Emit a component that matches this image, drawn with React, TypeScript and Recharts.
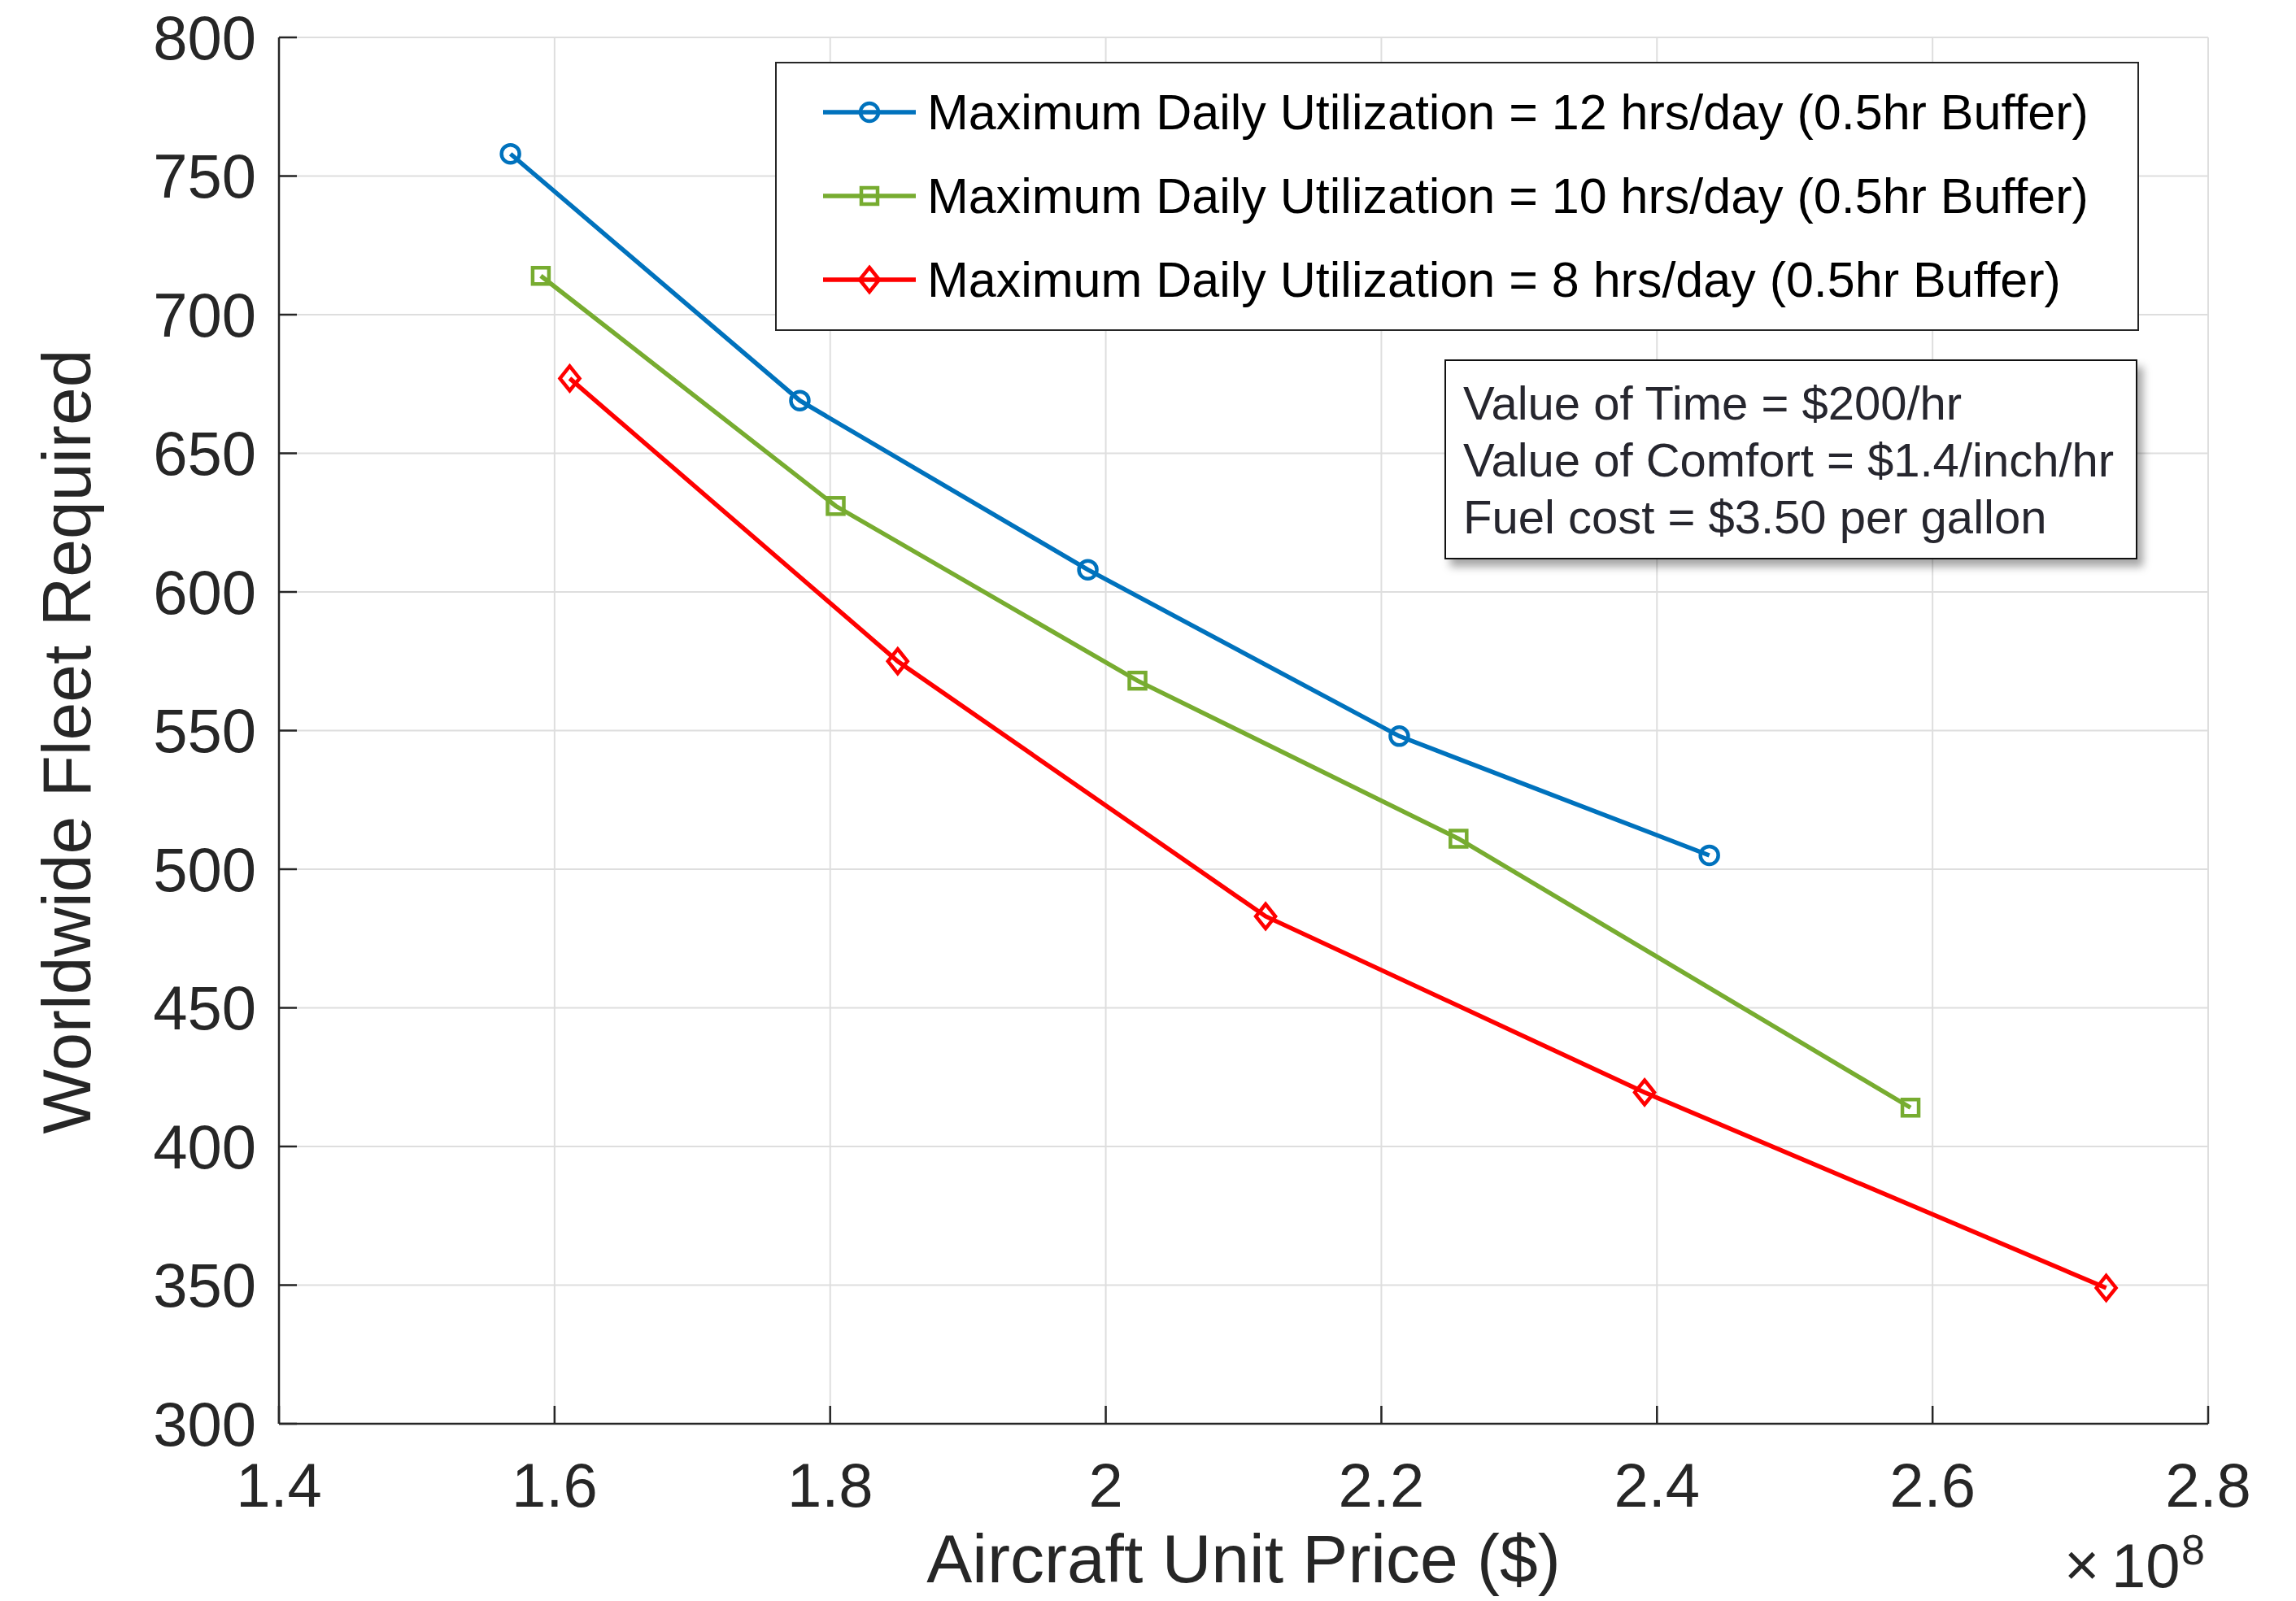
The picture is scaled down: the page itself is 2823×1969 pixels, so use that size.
import React from "react";
import {
  CartesianGrid,
  Legend,
  Line,
  LineChart,
  XAxis,
  YAxis,
} from "recharts";

// Aircraft unit price ($) vs. worldwide fleet required, per max daily utilization
const PRICE_12H = [1.568e8, 1.778e8, 1.987e8, 2.213e8, 2.438e8];
const FLEET_12H = [758, 669, 608, 548, 505];

const PRICE_10H = [1.59e8, 1.804e8, 2.023e8, 2.256e8, 2.584e8];
const FLEET_10H = [714, 631, 568, 511, 414];

const PRICE_8H = [1.611e8, 1.849e8, 2.116e8, 2.391e8, 2.726e8];
const FLEET_8H = [677, 575, 483, 419.5, 349];

const X_TICKS = [1.4e8, 1.6e8, 1.8e8, 2.0e8, 2.2e8, 2.4e8, 2.6e8, 2.8e8];
const Y_TICKS = [300, 350, 400, 450, 500, 550, 600, 650, 700, 750, 800];

const SERIES_NAMES = [
  "Maximum Daily Utilization = 12 hrs/day (0.5hr Buffer)",
  "Maximum Daily Utilization = 10 hrs/day (0.5hr Buffer)",
  "Maximum Daily Utilization = 8 hrs/day (0.5hr Buffer)",
];

const NOTE_LINES = [
  "Value of Time = $200/hr",
  "Value of Comfort = $1.4/inch/hr",
  "Fuel cost = $3.50 per gallon",
];

const toRows = (xs: number[], ys: number[]) =>
  xs.map((price, i) => ({ price, fleet: ys[i] }));

const SERIES = [
  { name: SERIES_NAMES[0], color: "#0072BD", shape: "circle", data: toRows(PRICE_12H, FLEET_12H) },
  { name: SERIES_NAMES[1], color: "#77AC30", shape: "square", data: toRows(PRICE_10H, FLEET_10H) },
  { name: SERIES_NAMES[2], color: "#FF0000", shape: "diamond", data: toRows(PRICE_8H, FLEET_8H) },
];

const FONT = "'Liberation Sans', Arial, Helvetica, sans-serif";
const INK = "#262626";

function Marker({ cx, cy, shape, color }: { cx: number; cy: number; shape: string; color: string }) {
  const common = { fill: "none", stroke: color, strokeWidth: 4.5 };
  if (shape === "square") {
    return <rect x={cx - 10} y={cy - 10} width={20} height={20} {...common} />;
  }
  if (shape === "diamond") {
    return (
      <polygon
        points={`${cx},${cy - 15} ${cx + 12},${cy} ${cx},${cy + 15} ${cx - 12},${cy}`}
        {...common}
      />
    );
  }
  return <circle cx={cx} cy={cy} r={11} {...common} />;
}

function LegendBox() {
  return (
    <div
      style={{
        width: 1677,
        height: 331,
        boxSizing: "border-box",
        border: `2px solid ${INK}`,
        background: "#fff",
        position: "relative",
        fontFamily: FONT,
      }}
    >
      {SERIES.map((s, i) => (
        <div
          key={s.name}
          style={{
            position: "absolute",
            left: 55,
            top: 8 + i * 103,
            height: 103,
            display: "flex",
            alignItems: "center",
          }}
        >
          <svg width={116} height={40} style={{ display: "block" }}>
            <line x1={2} y1={20} x2={116} y2={20} stroke={s.color} strokeWidth={5.5} />
            <Marker cx={59} cy={20} shape={s.shape} color={s.color} />
          </svg>
          <span style={{ marginLeft: 14, fontSize: 61, color: "#000", whiteSpace: "nowrap" }}>
            {s.name}
          </span>
        </div>
      ))}
    </div>
  );
}

const fmtPrice = (v: number) => String(Number((v / 1e8).toFixed(1)));

export default function App() {
  const tickStyle = { fill: INK, fontSize: 76, fontFamily: FONT };
  return (
    <div style={{ position: "absolute", left: 0, top: 0, width: 2823, height: 1969, background: "#fff" }}>
      <LineChart
        width={2823}
        height={1969}
        margin={{ top: 46, right: 108, bottom: 118, left: 143 }}
      >
        <CartesianGrid stroke="#dedede" strokeWidth={2} />
        <XAxis
          dataKey="price"
          type="number"
          domain={[1.4e8, 2.8e8]}
          ticks={X_TICKS}
          tickFormatter={fmtPrice}
          height={100}
          tickSize={-22}
          tickMargin={70}
          tick={tickStyle}
          stroke={INK}
          strokeWidth={2.5}
          allowDataOverflow
          label={{
            content: (p: any) => {
              const vb = p.viewBox || { x: 343, width: 2372 };
              return (
                <text
                  x={vb.x + vb.width / 2}
                  y={1946}
                  textAnchor="middle"
                  fontSize={84}
                  fontFamily={FONT}
                  fill={INK}
                >
                  Aircraft Unit Price ($)
                </text>
              );
            },
          }}
        />
        <XAxis
          xAxisId="top"
          orientation="top"
          type="number"
          dataKey="price"
          domain={[1.4e8, 2.8e8]}
          ticks={X_TICKS}
          height={0}
          tick={false}
          tickSize={-22}
          stroke={INK}
          strokeWidth={2.5}
          allowDataOverflow
        />
        <YAxis
          type="number"
          domain={[300, 800]}
          ticks={Y_TICKS}
          width={200}
          tickSize={-22}
          tickMargin={50}
          tick={tickStyle}
          stroke={INK}
          strokeWidth={2.5}
          allowDataOverflow
          label={{
            content: () => (
              <text
                x={111}
                y={912}
                transform="rotate(-90 111 912)"
                textAnchor="middle"
                fontSize={84}
                fontFamily={FONT}
                fill={INK}
              >
                Worldwide Fleet Required
              </text>
            ),
          }}
        />
        <YAxis
          yAxisId="right"
          orientation="right"
          type="number"
          domain={[300, 800]}
          ticks={Y_TICKS}
          width={0}
          tick={false}
          tickSize={-22}
          stroke={INK}
          strokeWidth={2.5}
          allowDataOverflow
        />
        <Legend
          layout="horizontal"
          verticalAlign="middle"
          align="center"
          wrapperStyle={{ position: "absolute", left: 953, top: 76, width: 1677, height: 331 }}
          content={() => <LegendBox />}
        />
        {SERIES.map((s) => (
          <Line
            key={s.name}
            name={s.name}
            data={s.data}
            dataKey="fleet"
            type="linear"
            stroke={s.color}
            strokeWidth={5.5}
            isAnimationActive={false}
            activeDot={false}
            dot={(p: any) => (
              <Marker key={`${s.shape}-${p.index}`} cx={p.cx} cy={p.cy} shape={s.shape} color={s.color} />
            )}
          />
        ))}
      </LineChart>

      <div
        style={{
          position: "absolute",
          left: 1776,
          top: 442,
          width: 852,
          height: 246,
          boxSizing: "border-box",
          border: "2.5px solid #111",
          background: "#fff",
          boxShadow: "7px 9px 10px rgba(0,0,0,0.35)",
          padding: "17px 0 0 21px",
          fontFamily: FONT,
          fontSize: 58,
          lineHeight: "70px",
          color: "#26262e",
          whiteSpace: "nowrap",
        }}
      >
        {NOTE_LINES.map((t) => (
          <div key={t}>{t}</div>
        ))}
      </div>

      <svg
        width={2823}
        height={1969}
        style={{ position: "absolute", left: 0, top: 0, pointerEvents: "none" }}
      >
        <text x={2538} y={1950} fontSize={74} fontFamily={FONT} fill={INK}>
          ×
        </text>
        <text x={2596} y={1952} fontSize={76} fontFamily={FONT} fill={INK}>
          10
        </text>
        <text x={2682} y={1924} fontSize={52} fontFamily={FONT} fill={INK}>
          8
        </text>
      </svg>
    </div>
  );
}
